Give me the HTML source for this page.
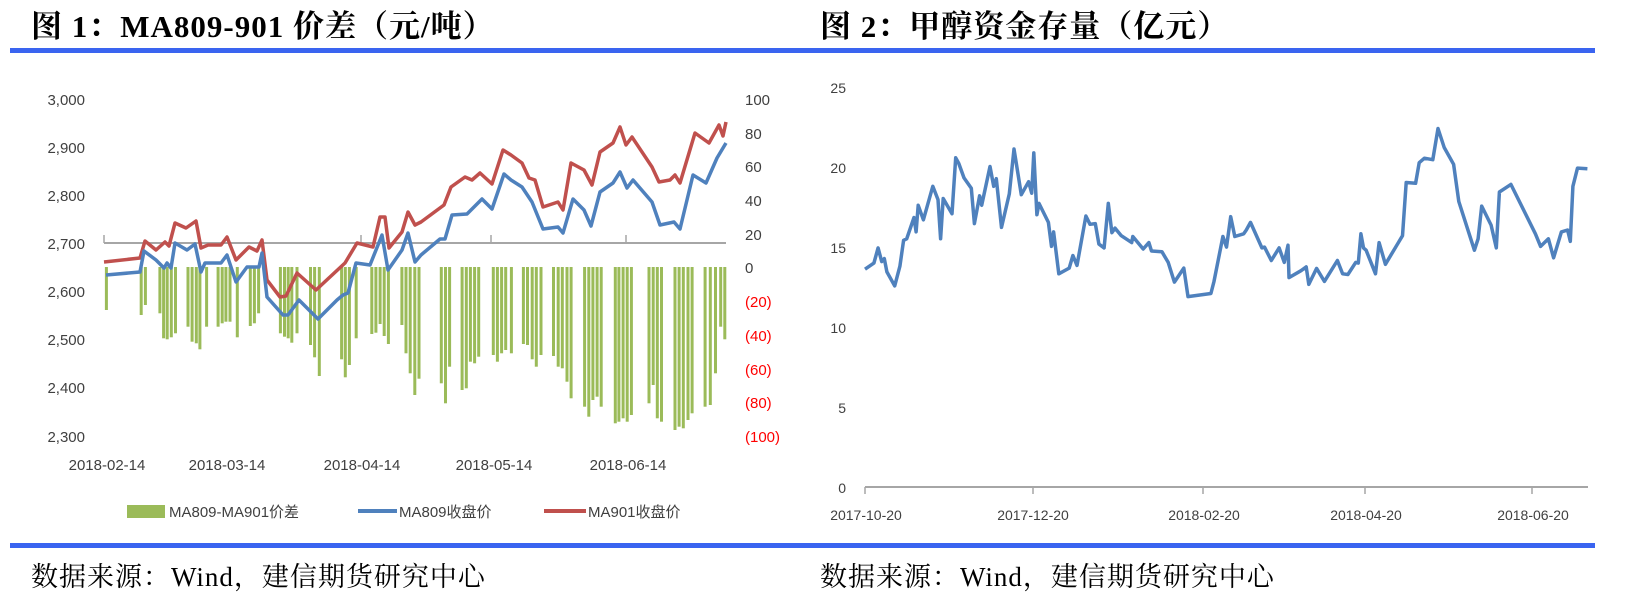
<!DOCTYPE html>
<html><head><meta charset="utf-8"><style>
body{margin:0;background:#fff;width:1628px;height:598px;overflow:hidden}
svg{display:block}
.t{font-family:"Liberation Serif","Noto Serif CJK SC",serif;font-weight:bold;font-size:31px;fill:#000;letter-spacing:1px}
.f{font-family:"Liberation Serif","Noto Serif CJK SC",serif;font-size:27px;fill:#000;letter-spacing:1px}
.a{font-family:"Liberation Sans","Noto Sans CJK SC",sans-serif;font-size:15px;fill:#404040}
.s{font-family:"Liberation Sans","Noto Sans CJK SC",sans-serif;font-size:14px;fill:#404040}
</style></head><body>
<svg id="c" width="1628" height="598" xmlns="http://www.w3.org/2000/svg">
<text class="t" x="31" y="37">图 1：MA809-901 价差（元/吨）</text>
<text class="t" x="820" y="37">图 2：甲醇资金存量（亿元）</text>
<rect x="10" y="48" width="1585" height="5" fill="#3a64f0"/>
<rect x="10" y="543" width="1585" height="5" fill="#3a64f0"/>
<text class="f" x="31" y="586">数据来源：Wind，建信期货研究中心</text>
<text class="f" x="820" y="586">数据来源：Wind，建信期货研究中心</text>
<g class="a" text-anchor="end">
<text x="85" y="105">3,000</text><text x="85" y="153">2,900</text><text x="85" y="201">2,800</text>
<text x="85" y="249">2,700</text><text x="85" y="297">2,600</text><text x="85" y="345">2,500</text>
<text x="85" y="393">2,400</text><text x="85" y="442">2,300</text>
</g>
<g class="a">
<text x="745" y="105">100</text><text x="745" y="139">80</text><text x="745" y="172">60</text>
<text x="745" y="206">40</text><text x="745" y="240">20</text><text x="745" y="273">0</text>
<g fill="#ff0000"><text x="745" y="307">(20)</text><text x="745" y="341">(40)</text><text x="745" y="375">(60)</text><text x="745" y="408">(80)</text><text x="745" y="442">(100)</text></g>
</g>
<g class="a" text-anchor="middle">
<text x="107" y="470">2018-02-14</text><text x="227" y="470">2018-03-14</text><text x="362" y="470">2018-04-14</text>
<text x="494" y="470">2018-05-14</text><text x="628" y="470">2018-06-14</text>
</g>
<g id="bars" fill="#9bbb59"></g>
<line x1="104" y1="243" x2="726" y2="243" stroke="#a6a6a6" stroke-width="2"/>
<g stroke="#a6a6a6" stroke-width="1.5"><line x1="104" y1="235" x2="104" y2="243"/><line x1="361" y1="235" x2="361" y2="243"/><line x1="491" y1="235" x2="491" y2="243"/><line x1="626" y1="235" x2="626" y2="243"/></g>
<polyline id="red" fill="none" stroke="#c0504d" stroke-width="3.5" stroke-linejoin="round"/>
<polyline id="blue" fill="none" stroke="#4f81bd" stroke-width="3.5" stroke-linejoin="round"/>
<rect x="127" y="505" width="38" height="13" fill="#9bbb59"/>
<text class="a" x="169" y="517">MA809-MA901价差</text>
<line x1="358" y1="511" x2="397" y2="511" stroke="#4f81bd" stroke-width="4"/>
<text class="a" x="399" y="517">MA809收盘价</text>
<line x1="544" y1="511" x2="586" y2="511" stroke="#c0504d" stroke-width="4"/>
<text class="a" x="588" y="517">MA901收盘价</text>
<g class="s" text-anchor="end">
<text x="846" y="93">25</text><text x="846" y="173">20</text><text x="846" y="253">15</text>
<text x="846" y="333">10</text><text x="846" y="413">5</text><text x="846" y="493">0</text>
</g>
<line x1="865" y1="487" x2="1588" y2="487" stroke="#a6a6a6" stroke-width="2"/>
<g stroke="#a6a6a6" stroke-width="1.5"><line x1="865" y1="487" x2="865" y2="494"/><line x1="1033" y1="487" x2="1033" y2="494"/><line x1="1203" y1="487" x2="1203" y2="494"/><line x1="1365" y1="487" x2="1365" y2="494"/><line x1="1532" y1="487" x2="1532" y2="494"/></g>
<g class="s" text-anchor="middle">
<text x="866" y="520">2017-10-20</text><text x="1033" y="520">2017-12-20</text><text x="1204" y="520">2018-02-20</text>
<text x="1366" y="520">2018-04-20</text><text x="1533" y="520">2018-06-20</text>
</g>
<polyline id="r2" fill="none" stroke="#4f81bd" stroke-width="3.5" stroke-linejoin="round"/>
</svg>
<script>
var blue=[[106,275],[140,272],[144,251],[156,260],[164,268],[167,263],[171,268],[175,243],[187,250],[195,244],[201,272],[205,263],[221,263],[227,255],[236,282],[247,267],[259,267],[262,253],[267,297],[283,315],[288,315],[299,300],[318,319],[337,300],[343,295],[348,293],[356,263],[370,265],[382,235],[388,270],[402,250],[408,233],[415,262],[421,255],[440,239],[445,239],[452,215],[467,214],[482,199],[492,209],[504,174],[511,180],[522,187],[532,202],[543,229],[558,227],[563,233],[573,199],[584,210],[591,226],[600,192],[613,183],[620,172],[627,188],[633,180],[652,202],[660,225],[674,222],[680,229],[693,175],[706,183],[717,158],[726,143]];
var red=[[104,262],[140,258],[145,241],[156,250],[165,242],[169,246],[175,223],[186,228],[196,221],[201,248],[208,245],[221,245],[227,237],[236,260],[249,247],[257,251],[262,240],[267,280],[280,297],[286,296],[297,273],[316,290],[345,263],[357,243],[373,247],[380,217],[385,217],[389,248],[402,232],[408,212],[415,225],[421,222],[444,205],[451,187],[465,177],[472,180],[480,173],[492,184],[503,150],[511,155],[522,163],[529,178],[535,180],[543,207],[558,202],[563,210],[571,163],[584,170],[592,185],[600,152],[613,143],[620,127],[626,145],[632,137],[652,167],[659,182],[670,180],[675,175],[680,183],[695,133],[709,143],[719,125],[723,136],[726,122]];
function P(a){return a.map(function(p){return p[0]+","+p[1]}).join(" ")}
document.getElementById("blue").setAttribute("points",P(blue));
document.getElementById("red").setAttribute("points",P(red));
var b=[[205,30],[272,45],[280,15],[308,40],[315,115],[322,118],[330,112],[338,100],[362,80],[370,125],[378,130],[385,148],[398,80],[420,80],[428,70],[435,65],[443,65],[457,112],[482,78],[490,70],[498,40],[540,100],[548,110],[555,115],[562,128],[572,100],[598,135],[606,172],[615,228],[658,178],[665,232],[673,195],[686,115],[716,102],[724,98],[732,72],[740,108],[748,132],[774,75],[782,160],[790,220],[799,285],[807,236],[850,250],[858,310],[866,200],[890,270],[898,265],[906,185],[914,190],[922,170],[950,165],[958,185],[966,160],[974,150],[985,160],[1008,132],[1016,135],[1025,178],[1033,200],[1042,165],[1066,168],[1075,200],[1083,205],[1092,245],[1100,295],[1126,320],[1134,350],[1142,300],[1150,290],[1158,320],[1185,370],[1192,365],[1200,355],[1208,365],[1216,345],[1250,310],[1258,255],[1266,355],[1274,365],[1300,390],[1308,380],[1316,385],[1325,360],[1333,340],[1358,320],[1368,315],[1378,220],[1388,80],[1396,118]];
var h="";b.forEach(function(p){var x=p[0]/1.926,y=p[1]/3+300;h+='<rect x="'+(x-1.5).toFixed(1)+'" y="267" width="3" height="'+(y-267).toFixed(1)+'"/>'});
document.getElementById("bars").innerHTML=h;
var r=[[98,708],[115,692],[123,652],[130,688],[135,680],[140,715],[155,752],[165,700],[172,632],[178,628],[192,572],[196,610],[200,540],[210,578],[228,490],[238,525],[243,628],[248,522],[265,562],[272,415],[278,430],[288,468],[302,495],[308,588],[318,515],[322,540],[338,438],[345,490],[350,470],[360,598],[375,510],[384,392],[398,512],[412,478],[418,508],[422,402],[428,565],[432,535],[450,585],[456,648],[460,610],[470,720],[490,705],[497,672],[505,698],[522,568],[530,590],[540,588],[547,642],[557,652],[565,535],[572,612],[578,600],[590,620],[610,638],[612,622],[632,655],[643,638],[648,660],[668,662],[680,690],[692,742],[710,705],[718,780],[762,772],[768,740],[785,622],[792,650],[800,570],[808,622],[825,615],[830,605],[838,585],[860,652],[865,650],[878,685],[893,652],[903,690],[910,645],[912,730],[935,712],[945,702],[950,748],[965,706],[980,740],[1005,685],[1015,720],[1025,722],[1040,690],[1045,692],[1050,615],[1055,652],[1060,658],[1078,720],[1085,638],[1097,695],[1130,620],[1137,480],[1155,482],[1162,428],[1172,416],[1188,420],[1198,338],[1210,388],[1228,432],[1238,530],[1268,658],[1275,628],[1282,542],[1300,592],[1310,652],[1316,505],[1338,485],[1385,615],[1395,648],[1410,628],[1420,678],[1435,610],[1447,605],[1452,635],[1457,490],[1466,442],[1485,444]];
document.getElementById("r2").setAttribute("points",r.map(function(p){return (814+p[0]/1.92).toFixed(1)+","+(p[1]/2.63).toFixed(1)}).join(" "));
</script>
</body></html>
